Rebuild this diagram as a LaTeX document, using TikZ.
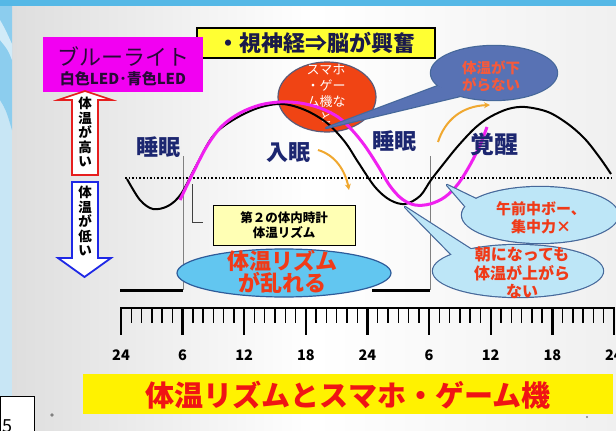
\documentclass[tikz,border=0pt]{standalone}
\usepackage{fontspec}
\setmainfont{Noto Sans CJK JP}
\usetikzlibrary{arrows.meta,shapes.geometric}
\definecolor{navy}{HTML}{1C2670}
\definecolor{magbox}{HTML}{F200F2}
\definecolor{ttlyel}{HTML}{FFFF33}
\definecolor{pinkc}{HTML}{F020F0}
\definecolor{bubred}{HTML}{F04414}
\definecolor{callblue}{HTML}{5872B4}
\definecolor{calllight}{HTML}{BDE6F7}
\definecolor{callborder}{HTML}{46689A}
\definecolor{ellblue}{HTML}{62C6F0}
\definecolor{txtred}{HTML}{F03A18}
\definecolor{orarrow}{HTML}{F0A830}
\begin{document}
\begin{tikzpicture}[x=1pt,y=-1pt,
  lbl/.style={font=\bfseries\fontsize{22}{24}\selectfont, text=navy, inner sep=0pt},
  tick/.style={line width=1.4pt},
  major/.style={line width=2.4pt},
  hour/.style={font=\bfseries\fontsize{14.5}{16}\selectfont, inner sep=0pt},
  vtext/.style={font=\bfseries\fontsize{13.5}{14.5}\selectfont, align=center, inner sep=0pt},
  calltext/.style={font=\bfseries\fontsize{15}{18}\selectfont, text=txtred, align=center, inner sep=0pt},
  oarrow/.style={draw=orarrow, line width=2pt, -{Stealth[length=6pt,width=6pt]}}]
\useasboundingbox (0,0) rectangle (616,431);
% background
\fill[color={rgb,255:red,200;green,230;blue,245}] (0,0) rectangle (616,431);
\shade[left color={rgb,255:red,222;green,222;blue,222}, right color={rgb,255:red,240;green,240;blue,240}, middle color=white] (12,6) rectangle (616,431);
\fill[color={rgb,255:red,85;green,184;blue,230}] (0,0) rectangle (616,6);
\fill[color={rgb,255:red,140;green,205;blue,238}] (0,6) -- (12,6) -- (12,130) .. controls (6,110) .. (0,100) -- cycle;
\fill[white, opacity=0.6] (0,20) .. controls (6,30) and (10,40) .. (12,44) -- (12,60) .. controls (8,50) .. (0,40) -- cycle;
% page number box
\node[draw=black, fill=white, line width=0.8pt, minimum width=34pt, minimum height=36pt, inner sep=0pt, anchor=north west] (pg) at (0,396) {};
\node[font=\fontsize{18}{18}\selectfont, anchor=north west, inner sep=0pt] (pgn) at (2,419) {5};
\fill[gray] (52,415) circle (1.8);
\fill[gray] (587,417) circle (1.2);

% title box
\node[draw=black, fill=ttlyel, line width=1.2pt, minimum width=238pt, minimum height=30pt, inner sep=0pt,
      font=\bfseries\fontsize{22}{24}\selectfont, text={rgb,255:red,26;green,26;blue,74}] (title) at (316,43) {・視神経⇒脳が興奮};
% magenta box
\node[fill=magbox, minimum width=160pt, minimum height=55pt, inner sep=0pt] (blue) at (123,64.5) {};
\node[font=\fontsize{22}{24}\selectfont, text={rgb,255:red,40;green,10;blue,55}, inner sep=0pt] (blt) at (123,57) {ブルーライト};
\node[font=\bfseries\fontsize{15}{16}\selectfont, text={rgb,255:red,40;green,10;blue,55}, inner sep=0pt] (led) at (123,79) {白色LED･青色LED};

% up / down arrows
\draw[draw={rgb,255:red,230;green,30;blue,30}, fill=white, line width=1.6pt]
  (85,91) -- (112,100) -- (98,100) -- (98,175) -- (72,175) -- (72,100) -- (58,100) -- cycle;
\node[vtext] (hi) at (85,132) {体\\温\\が\\高\\い};
\draw[draw={rgb,255:red,30;green,40;blue,230}, fill=white, line width=1.8pt]
  (72,182) -- (98,182) -- (98,258) -- (111,258) -- (84.5,277) -- (58,258) -- (72,258) -- cycle;
\node[vtext] (lo) at (85,221) {体\\温\\が\\低\\い};

% guide lines
\draw[gray, line width=0.7pt] (183,156) -- (183,290);
\draw[gray, line width=0.7pt] (430,156) -- (430,290);
\draw[black, dotted, line width=1.6pt] (125,178) -- (612,178);
\draw[black, line width=3pt] (120,290) -- (183,290);
\draw[black, line width=3pt] (372,290) -- (430,290);
\draw[darkgray, line width=0.8pt] (192,184) -- (192,222) -- (203,222);

% red bubble
\node[ellipse, draw={rgb,255:red,90;green,90;blue,120}, fill=bubred, line width=1.2pt, minimum width=98pt, minimum height=70pt, inner sep=0pt] (smaho) at (327,97) {};
\node[font=\fontsize{13}{16}\selectfont, text=white, align=center, inner sep=0pt, anchor=north] (smt) at (326,64) {スマホ\\・ゲー\\ム機な\\ど};

% black curve
\draw[black, line width=2pt] plot[smooth, tension=0.55] coordinates {
 (127,179) (140,200) (153,209) (168,206) (181,194) (196,166) (213,136) (233,120) (258,108) (282,104) (305,110) (327,123) (345,142) (358,162) (375,187) (390,200) (405,204) (420,196) (431,180) (445,162) (458,146) (475,128) (490,117) (508,109) (525,107) (548,112) (568,124) (585,139) (600,158) (611,174)};
% pink curve
\draw[pinkc, line width=3pt] plot[smooth, tension=0.55] coordinates {
 (180,200) (192,175) (207,146) (222,126) (240,113) (260,105) (280,102) (300,103) (320,108) (338,117) (352,130) (365,146) (378,166) (390,186) (402,199) (415,205) (430,204) (445,197) (458,184) (470,165) (480,145) (487,127)};

% orange arrows
\draw[oarrow] (318,150) .. controls (335,155) and (345,170) .. (349,190);
\draw[oarrow] (438,142) .. controls (445,120) and (462,106) .. (490,105);

% labels
\node[lbl] (sl1) at (158,147) {睡眠};
\node[lbl] (nyu) at (288,153) {入眠};
\node[lbl] (sl2) at (394,141) {睡眠};
\node[lbl, font=\bfseries\fontsize{24}{26}\selectfont] (kak) at (494,144) {覚醒};

% blue callout
\draw[draw=callborder, line width=2.4pt] (494,73) ellipse [x radius=63, y radius=27];
\draw[draw=callborder, line width=2.4pt, line join=round] (326,128) -- (438,86) -- (460,96) -- cycle;
\fill[callblue] (494,73) ellipse [x radius=63, y radius=27];
\fill[callblue] (326,128) -- (438,86) -- (460,96) -- cycle;
\node[font=\bfseries\fontsize{14.5}{17}\selectfont, text={rgb,255:red,245;green,90;blue,60}, align=center, inner sep=0pt] (nosag) at (491,76) {体温が下\\がらない};

% small yellow box
\node[draw=black, fill={rgb,255:red,255;green,255;blue,180}, line width=0.8pt, minimum width=142pt, minimum height=40pt, inner sep=0pt,
      font=\bfseries\fontsize{12.5}{15}\selectfont, align=center] (clock) at (284,225) {第２の体内時計\\体温リズム};

% disturbed ellipse
\node[ellipse, draw={rgb,255:red,46;green,92;blue,154}, fill=ellblue, line width=1.2pt, minimum width=214pt, minimum height=48pt, inner sep=0pt] (dis) at (284,273) {};
\node[font=\bfseries\fontsize{22}{22}\selectfont, text=txtred, align=center, inner sep=0pt] (dist) at (282,272) {体温リズム\\が乱れる};

% light callouts
\draw[draw=callborder, line width=2.4pt] (540,215) ellipse [x radius=78, y radius=28];
\draw[draw=callborder, line width=2.4pt, line join=round] (447,185) -- (478,200) -- (472,214) -- cycle;
\fill[calllight] (540,215) ellipse [x radius=78, y radius=28];
\fill[calllight] (447,185) -- (478,200) -- (472,214) -- cycle;
\node[calltext] (am) at (541,218) {午前中ボー、\\集中力×};

\draw[draw=callborder, line width=2.4pt] (518,271) ellipse [x radius=85, y radius=26];
\draw[draw=callborder, line width=2.4pt, line join=round] (405,207) -- (475,252) -- (455,258) -- cycle;
\fill[calllight] (518,271) ellipse [x radius=85, y radius=26];
\fill[calllight] (405,207) -- (475,252) -- (455,258) -- cycle;
\node[font=\bfseries\fontsize{16}{18.5}\selectfont, text=txtred, align=center, inner sep=0pt] (morn) at (522,273) {朝になっても\\体温が上がら\\ない};

% ruler
\draw[black, line width=2pt] (121,308) -- (614,308);
\foreach \h in {0,...,48} {
  \pgfmathsetmacro{\xx}{121+\h*10.27}
  \pgfmathtruncatemacro{\mm}{mod(\h,6)}
  \ifnum\mm=0
    \draw[major] (\xx,307) -- (\xx,335);
  \else
    \draw[tick] (\xx,307) -- (\xx,323);
  \fi
}
\foreach \h/\t in {0/24,6/6,12/12,18/18,24/24,30/6,36/12,42/18,48/24} {
  \node[hour] (h\h) at (121+\h*10.27,355) {\t};
}

% bottom band
\node[fill=yellow, minimum width=530pt, minimum height=40pt, inner sep=0pt] (band) at (348,394) {};
\node[font=\bfseries\fontsize{29}{30}\selectfont, text={rgb,255:red,240;green,20;blue,20}, inner sep=0pt] (bt) at (348,395) {体温リズムとスマホ・ゲーム機};
\end{tikzpicture}
\end{document}
